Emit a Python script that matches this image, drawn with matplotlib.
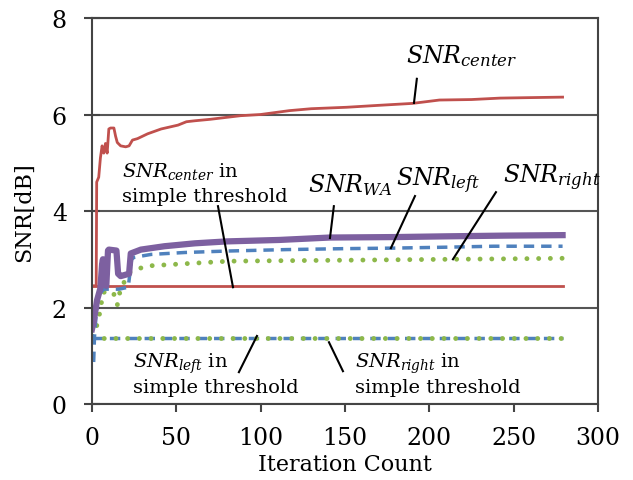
import matplotlib
matplotlib.use("Agg")
import matplotlib.pyplot as plt

plt.rcParams["font.family"] = ["DejaVu Serif"]
plt.rcParams["mathtext.fontset"] = "custom"
plt.rcParams["mathtext.rm"] = "DejaVu Serif"
plt.rcParams["mathtext.it"] = "DejaVu Serif:italic"

# adaptive threshold runs
center_x = [0, 2.5, 2.8, 4, 5, 6, 7, 8, 9, 10, 11, 13, 14, 15, 17, 20, 22, 24, 27, 33, 41,
            51, 56, 61, 70, 88, 100, 117, 130, 151, 170, 190, 206, 225, 242, 260, 279]
center_y = [2.45, 2.45, 4.6, 4.7, 5.1, 5.35, 5.2, 5.4, 5.2, 5.7, 5.72, 5.72, 5.55, 5.42, 5.35,
            5.33, 5.35, 5.47, 5.5, 5.6, 5.7, 5.78, 5.85, 5.87, 5.9, 5.975, 6.0, 6.08, 6.12,
            6.15, 6.19, 6.23, 6.3, 6.31, 6.34, 6.35, 6.36]

wa_x = [0, 1, 3, 5, 6, 6.5, 7.5, 8.5, 9.5, 10, 14.5, 15.5, 17, 22, 23, 29, 43, 61, 80, 111,
        141, 180, 210, 245, 279]
wa_y = [1.55, 1.7, 2.15, 2.4, 2.9, 3.0, 2.5, 2.45, 3.18, 3.2, 3.18, 2.7, 2.65, 2.7, 3.12, 3.2,
        3.27, 3.33, 3.37, 3.40, 3.45, 3.46, 3.475, 3.49, 3.50]

left_x = [1, 1.5, 3, 5, 7, 10, 16, 21.5, 23.5, 25, 35, 55, 80, 115, 150, 177, 210, 238, 279]
left_y = [0.87, 1.4, 2.1, 2.3, 2.38, 2.38, 2.38, 2.42, 3.0, 3.04, 3.1, 3.14, 3.17, 3.20, 3.22,
          3.23, 3.25, 3.27, 3.27]

right_x = [0, 2, 4.7, 6.6, 10, 12.6, 15, 17, 22.5, 32, 51.5, 81, 111, 150, 214, 250, 279]
right_y = [1.41, 1.5, 1.9, 2.32, 2.3, 2.32, 2.05, 2.4, 2.73, 2.86, 2.9, 2.96, 2.97, 2.98,
           3.0, 3.01, 3.02]

# simple threshold (constant)
simple_x = [0, 279]
simple_center = [2.45, 2.45]
simple_left = [1.37, 1.37]
simple_right = [1.36, 1.36]

RED = "#C0504D"
BLUE = "#4F81BD"
GREEN = "#8DB84A"
PURPLE = "#7D60A0"
DASH = (0, (3, 2))
DOT = (0, (0.01, 2.4))

fig = plt.figure(figsize=(6.33, 4.81), dpi=100)
ax = fig.add_axes([0.1453, 0.158, 0.7994, 0.8025])

ax.plot(simple_x, simple_center, color=RED, lw=2)
ax.plot(simple_x, simple_left, color=BLUE, lw=2.5, ls=DASH)
ax.plot(simple_x, simple_right, color=GREEN, lw=3.5, ls=DOT, dash_capstyle="round")
ax.plot(center_x, center_y, color=RED, lw=2)
ax.plot(right_x, right_y, color=GREEN, lw=3.5, ls=DOT, dash_capstyle="round")
ax.plot(left_x, left_y, color=BLUE, lw=2.5, ls=DASH)
ax.plot(wa_x, wa_y, color=PURPLE, lw=4.5)

ax.set_xlim(0, 300)
ax.set_ylim(0, 8)
ax.set_xticks(range(0, 301, 50))
ax.set_yticks(range(0, 9, 2))
ax.grid(axis="y", color="#555555", lw=1.5)
ax.set_axisbelow(True)
for sp in ax.spines.values():
    sp.set_color("#444444")
    sp.set_linewidth(1.5)
ax.tick_params(direction="out", length=6, width=1.5, color="#444444",
               labelsize=17, pad=10)
ax.tick_params(axis="y", direction="inout", length=12, pad=12)
ax.set_xlabel("Iteration Count", fontsize=16, labelpad=3)
ax.set_ylabel("SNR[dB]", fontsize=16, labelpad=12)

fs = 17
fs2 = 14
ax.text(186, 7.09, r"$SNR_{center}$", fontsize=fs)
ax.text(128, 4.41, r"$SNR_{WA}$", fontsize=fs)
ax.text(180, 4.54, r"$SNR_{left}$", fontsize=fs)
ax.text(243.6, 4.60, r"$SNR_{right}$", fontsize=fs)
ax.text(17.8, 4.73, r"$SNR_{center}$ in", fontsize=fs2)
ax.text(17.8, 4.21, "simple threshold", fontsize=fs2)
ax.text(24.3, 0.77, r"$SNR_{left}$ in", fontsize=fs2)
ax.text(24.3, 0.25, "simple threshold", fontsize=fs2)
ax.text(155.9, 0.77, r"$SNR_{right}$ in", fontsize=fs2)
ax.text(155.9, 0.25, "simple threshold", fontsize=fs2)

leaders = [
    ((190.9, 6.24), (192.6, 6.74)),
    ((141.1, 3.44), (143.4, 4.10)),
    ((177.2, 3.23), (191.5, 4.31)),
    ((214.0, 3.00), (239.5, 4.39)),
    ((83.6, 2.42), (74.7, 4.10)),
    ((97.8, 1.41), (87.1, 0.66)),
    ((140.5, 1.28), (148.8, 0.68)),
]
for (x0, y0), (x1, y1) in leaders:
    ax.plot([x0, x1], [y0, y1], color="black", lw=1.5)

fig.savefig("out.png", dpi=100)
